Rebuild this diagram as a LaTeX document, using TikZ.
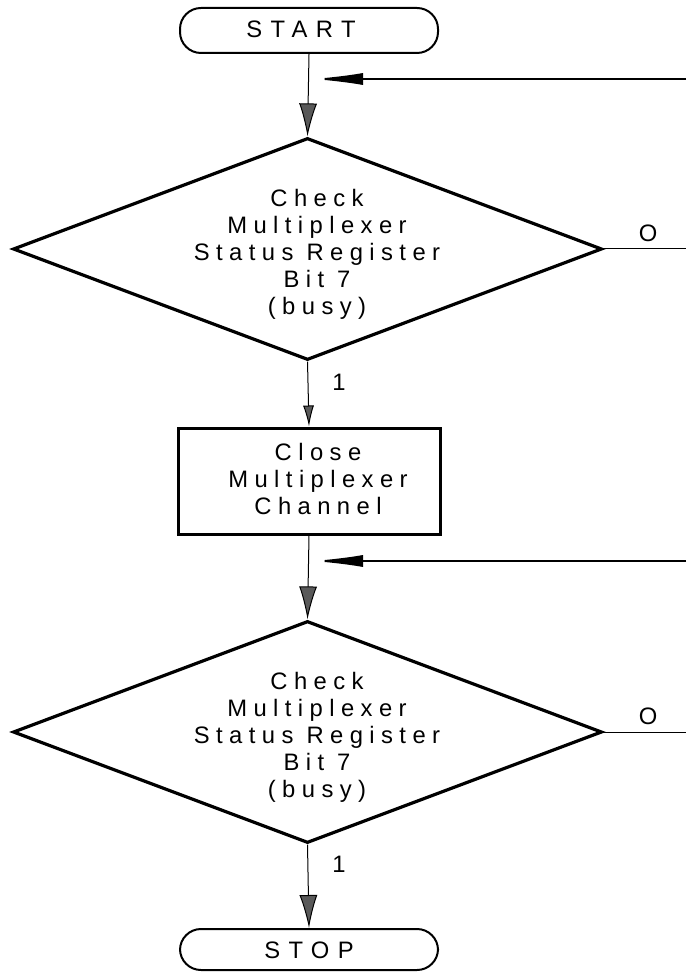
\documentclass[tikz,border=0pt]{standalone}
\usepackage{fontspec}
\setmainfont{Liberation Sans}[LetterSpace=27]
\usetikzlibrary{arrows.meta,shapes.geometric}
\tikzset{
  term/.style={draw,line width=1pt,rounded corners=10.5pt,minimum width=129pt,inner sep=0pt},
  termtxt/.style={font=\fontsize{11.9pt}{13.5pt}\selectfont\addfontfeatures{LetterSpace=35}},
  decision/.style={draw,diamond,line width=1.6pt,minimum width=294.5pt,minimum height=111pt,aspect=2.7,inner sep=0pt},
  procbox/.style={draw,line width=1.5pt,minimum width=131pt,minimum height=53pt,inner sep=0pt},
  txt/.style={align=center,font=\fontsize{11.9pt}{13.5pt}\selectfont},
  flow/.style={line width=0.5pt,-{Latex[length=16.5pt,width=9pt,fill=black!65]}},
  flowshort/.style={line width=0.5pt,-{Latex[length=10.5pt,width=5.5pt,fill=black!65]}},
  back/.style={line width=1pt,-{Latex[length=25.5pt,width=6pt]}},
  exit/.style={line width=0.5pt},
}

\begin{document}
\begin{tikzpicture}[x=0.5pt,y=-0.5pt]
  \useasboundingbox (0,0) rectangle (686,972);
  % Anfang und Ende
  \node[term,minimum height=22.5pt] (start) at (309,30.5) {};
  \node[termtxt] (starttxt) at (301,29) {START};
  \node[term,minimum height=20.5pt] (stop) at (309,949.5) {};
  \node[termtxt] (stoptxt) at (309,950.5) {STOP};
  % erste Abfrage
  \node[decision] (chk1) at (307.5,249) {};
  \node[txt] (chk1txt) at (317,254) {Check\\Multiplexer\\Status Register\\Bit 7\\(busy)};
  % Kanal schliessen
  \node[procbox] (close) at (309,481) {};
  \node[txt] (closetxt) at (318,479) {Close\\Multiplexer\\Channel};
  % zweite Abfrage
  \node[decision] (chk2) at (307.5,732) {};
  \node[txt] (chk2txt) at (317,737) {Check\\Multiplexer\\Status Register\\Bit 7\\(busy)};
  % Ruecksprungpunkte
  \coordinate (ret1in) at (686,79);
  \coordinate (ret1) at (312,79);
  \coordinate (ret2in) at (686,561);
  \coordinate (ret2) at (312,561);
  \coordinate (out1) at (686,249);
  \coordinate (out2) at (686,732);
  % Verbindungen
  \draw[flow] (start.south) -- (chk1.north);
  \draw[flowshort] (chk1.south) -- (close.north);
  \draw[flow] (close.south) -- (chk2.north);
  \draw[flow] (chk2.south) -- (stop.north);
  \draw[back] (ret1in) -- (ret1);
  \draw[back] (ret2in) -- (ret2);
  \draw[exit] (chk1.east) -- (out1);
  \draw[exit] (chk2.east) -- (out2);
  % Beschriftungen
  \node[txt] (one1) at (339,382) {1};
  \node[txt] (one2) at (339,864) {1};
  \node[txt] (zero1) at (648,233) {O};
  \node[txt] (zero2) at (648,716) {O};
\end{tikzpicture}
\end{document}
